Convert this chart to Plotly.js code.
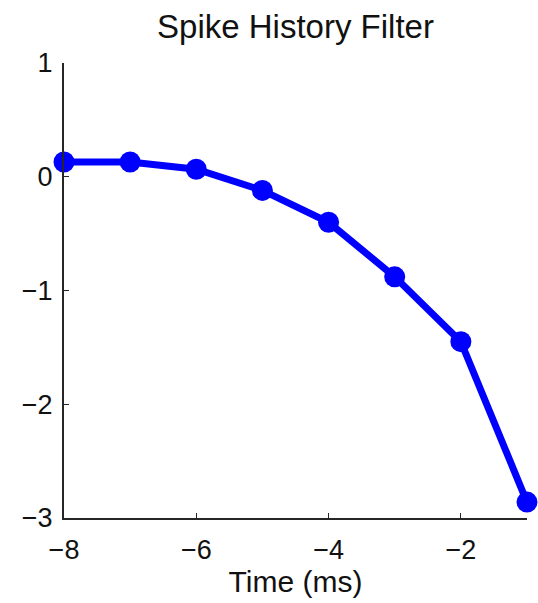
<!DOCTYPE html>
<html>
<head>
<meta charset="utf-8">
<script src="https://cdn.plot.ly/plotly-3.0.1.min.js"></script>
<style>html,body{margin:0;padding:0;background:#fff;}#chart{width:538px;height:603px;}</style>
</head>
<body>
<div id="chart"></div>
<script>
const timeMs = [-8, -7, -6, -5, -4, -3, -2, -1];
const filterValues = [0.13, 0.13, 0.066, -0.12, -0.40, -0.88, -1.45, -2.86];
const xTicks = [-8, -6, -4, -2];
const yTicks = [-3, -2, -1, 0, 1];

const fam = 'Liberation Sans, Arial, Helvetica, sans-serif';

Plotly.newPlot('chart', [{
  x: timeMs,
  y: filterValues,
  mode: 'lines+markers',
  line: {color: '#0000ff', width: 7},
  marker: {color: '#0000ff', size: 21},
  cliponaxis: false,
  hoverinfo: 'none'
}], {
  width: 538, height: 603,
  margin: {l: 64, r: 11, t: 63, b: 85},
  paper_bgcolor: '#fff', plot_bgcolor: '#fff',
  showlegend: false,
  font: {family: fam, color: '#111', size: 27},
  title: {text: 'Spike History Filter', font: {family: fam, size: 33, color: '#111'},
          x: 0.5, xref: 'paper', xanchor: 'center', y: 1 - 26/603, yref: 'container', yanchor: 'middle'},
  xaxis: {
    range: [-8, -1], tickvals: xTicks, ticktext: xTicks.map(v => '\u2212' + Math.abs(v)),
    showgrid: false, zeroline: false, showline: true, linecolor: '#262626', linewidth: 2,
    ticks: 'inside', ticklen: 5, tickcolor: '#262626', tickwidth: 1,
    tickfont: {family: fam, size: 27, color: '#111'}, ticklabelstandoff: 7,
    title: {text: 'Time (ms)', font: {family: fam, size: 30, color: '#111'}, standoff: 3}
  },
  yaxis: {
    range: [-3, 1], tickvals: yTicks, ticktext: yTicks.map(v => v < 0 ? '\u2212' + Math.abs(v) : String(v)),
    showgrid: false, zeroline: false, showline: true, linecolor: '#262626', linewidth: 2,
    ticks: 'inside', ticklen: 5, tickcolor: '#262626', tickwidth: 1,
    tickfont: {family: fam, size: 27, color: '#111'}, ticklabelstandoff: 4
  }
}, {staticPlot: true});
</script>
</body>
</html>
